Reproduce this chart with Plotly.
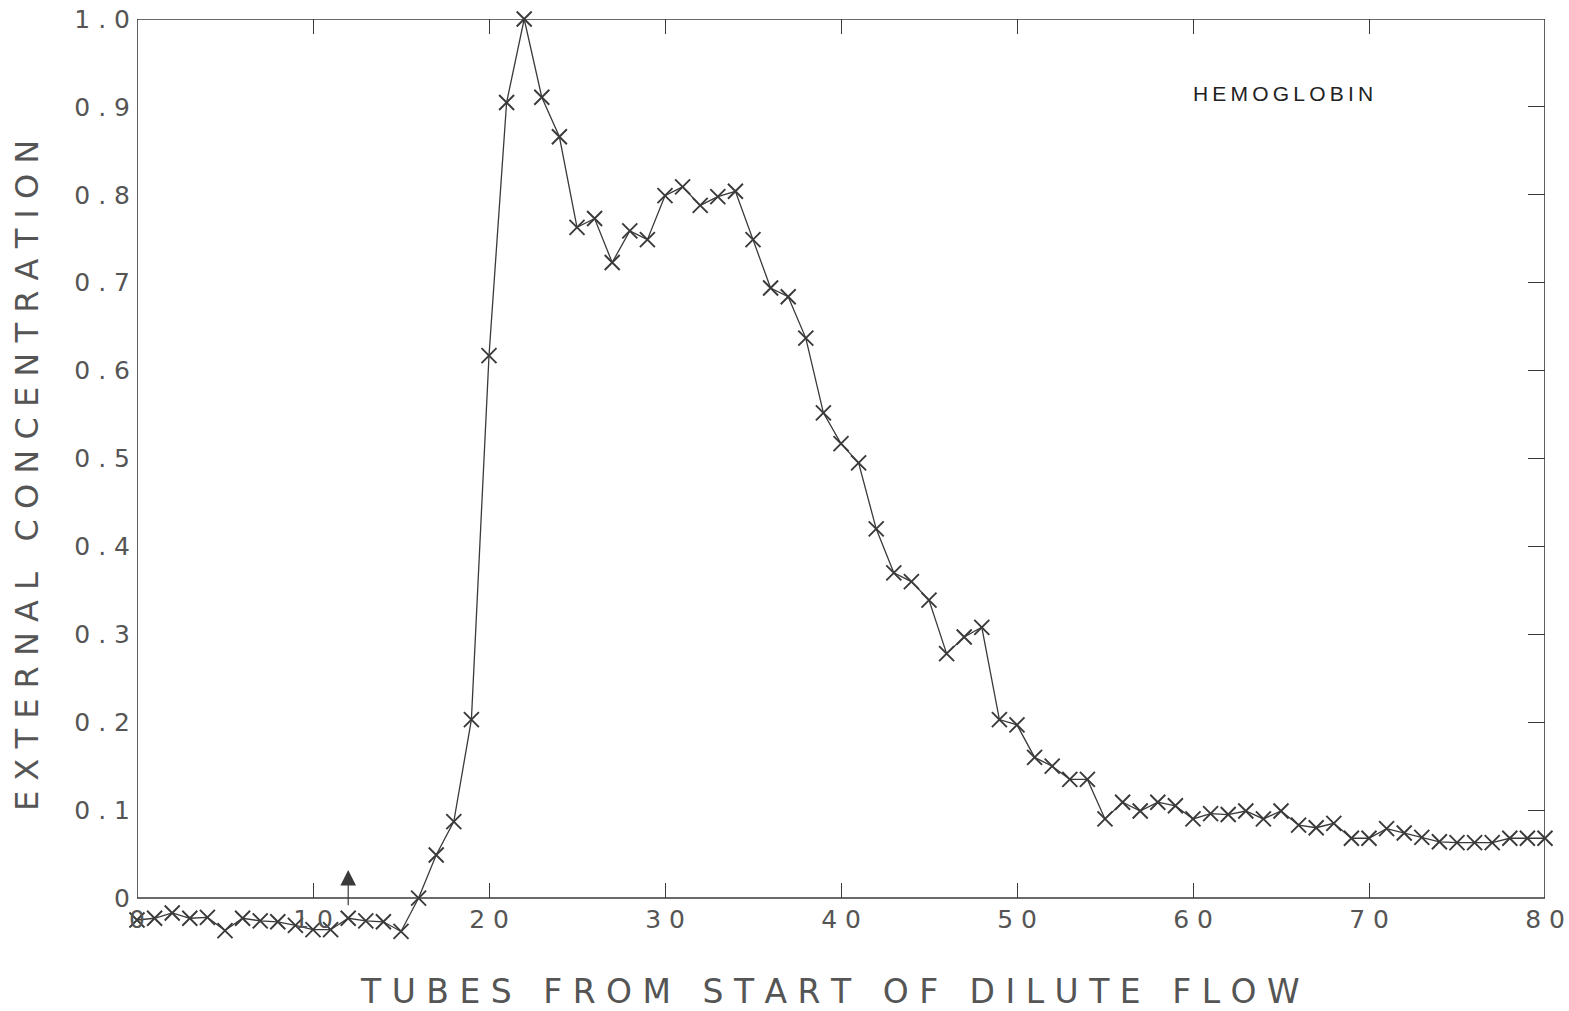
import plotly.graph_objects as go

tubes = list(range(0, 81))
concentration = [
    -0.025, -0.023, -0.017, -0.023, -0.022, -0.037, -0.023, -0.026, -0.027, -0.031,
    -0.036, -0.036, -0.023, -0.026, -0.027, -0.038, 0.000, 0.049, 0.087, 0.203,
    0.617, 0.905, 1.000, 0.911, 0.866, 0.763, 0.773, 0.723, 0.759, 0.749,
    0.799, 0.809, 0.788, 0.798, 0.804, 0.749, 0.694, 0.684, 0.637, 0.552,
    0.517, 0.495, 0.420, 0.370, 0.360, 0.339, 0.278, 0.297, 0.308, 0.203,
    0.197, 0.160, 0.150, 0.135, 0.135, 0.090, 0.109, 0.099, 0.109, 0.105,
    0.090, 0.096, 0.095, 0.099, 0.090, 0.099, 0.083, 0.080, 0.085, 0.068,
    0.068, 0.079, 0.074, 0.069, 0.064, 0.063, 0.063, 0.063, 0.068, 0.068,
    0.068,
]

x_tick_vals = [0, 10, 20, 30, 40, 50, 60, 70, 80]
x_tick_text = ["0", "1 0", "2 0", "3 0", "4 0", "5 0", "6 0", "7 0", "8 0"]
y_tick_vals = [0, 0.1, 0.2, 0.3, 0.4, 0.5, 0.6, 0.7, 0.8, 0.9, 1.0]
y_tick_text = ["0", "0 . 1", "0 . 2", "0 . 3", "0 . 4", "0 . 5", "0 . 6",
               "0 . 7", "0 . 8", "0 . 9", "1 . 0"]

x_title = "T U B E S   F R O M   S T A R T   O F   D I L U T E   F L O W"
y_title = "E X T E R N A L   C O N C E N T R A T I O N"
label = "H\u2009E\u2009M\u2009O\u2009G\u2009L\u2009O\u2009B\u2009I\u2009N"
arrow_tube = 12

x_range = [0, 80]
y_range = [-0.05, 1.0]

ink = "#3a3a3a"
text_col = "#555555"
plot_font = "DejaVu Sans"

fig = go.Figure()

fig.add_trace(go.Scatter(
    x=tubes, y=concentration, mode="lines+markers",
    line=dict(color=ink, width=1.3),
    marker=dict(symbol="x-thin", size=15, color=ink,
                line=dict(width=1.9, color=ink)),
    cliponaxis=False, showlegend=False, hoverinfo="x+y",
))

# invisible twin trace to carry the mirrored tick axes (top / right)
fig.add_trace(go.Scatter(
    x=tubes, y=concentration, mode="markers", xaxis="x2", yaxis="y2",
    marker=dict(opacity=0), showlegend=False, hoverinfo="skip",
))

zero_pos = (0 - y_range[0]) / (y_range[1] - y_range[0])

fig.update_layout(
    width=1569, height=1011,
    margin=dict(l=137, r=24, t=19, b=69),
    paper_bgcolor="white", plot_bgcolor="white",
    xaxis=dict(
        range=x_range, anchor="free", position=zero_pos, automargin=False,
        tickvals=x_tick_vals, ticktext=x_tick_text,
        ticks="inside", ticklen=15, tickwidth=1.3, tickcolor=ink,
        showline=False, showgrid=False, zeroline=False,
        tickfont=dict(family=plot_font, size=25, color=text_col),
        ticklabelstandoff=4,
    ),
    yaxis=dict(
        range=y_range, tickvals=y_tick_vals, ticktext=y_tick_text,
        automargin=False,
        ticks="", showline=False, showgrid=False, zeroline=False,
        tickfont=dict(family=plot_font, size=25, color=text_col),
        ticklabelstandoff=6,
    ),
    xaxis2=dict(
        range=x_range, overlaying="x", side="top", anchor="y2", automargin=False,
        tickvals=x_tick_vals[1:-1], ticks="inside", ticklen=15, tickwidth=1.3,
        tickcolor=ink, showticklabels=False, showline=False,
        showgrid=False, zeroline=False,
    ),
    yaxis2=dict(
        range=y_range, overlaying="y", side="right", anchor="x2", automargin=False,
        tickvals=y_tick_vals[1:-1], ticks="inside", ticklen=17, tickwidth=1.3,
        tickcolor=ink, showticklabels=False, showline=False,
        showgrid=False, zeroline=False,
    ),
    shapes=[dict(
        type="rect", xref="x", yref="y",
        x0=x_range[0], x1=x_range[1], y0=0, y1=y_range[1],
        line=dict(color=ink, width=1.6), layer="above",
    )],
    annotations=[
        dict(text=x_title, xref="paper", yref="paper", x=0.492, y=-0.054,
             xanchor="center", yanchor="middle", showarrow=False,
             font=dict(family=plot_font, size=33, color=text_col)),
        dict(text=y_title, xref="paper", yref="paper", x=-0.078, y=0.505,
             xanchor="center", yanchor="middle", textangle=-90, showarrow=False,
             font=dict(family=plot_font, size=32, color=text_col)),
        dict(text=label, xref="x", yref="y", x=65.1, y=0.915,
             xanchor="center", yanchor="middle", showarrow=False,
             font=dict(family="Liberation Sans", size=21, color="#222")),
        dict(text="", xref="x", yref="y", x=arrow_tube, y=0.032,
             axref="x", ayref="y", ax=arrow_tube, ay=-0.01,
             showarrow=True, arrowhead=2, arrowsize=2.6, arrowwidth=1.2,
             arrowcolor=ink),
    ],
)

fig.write_html("out.html")
